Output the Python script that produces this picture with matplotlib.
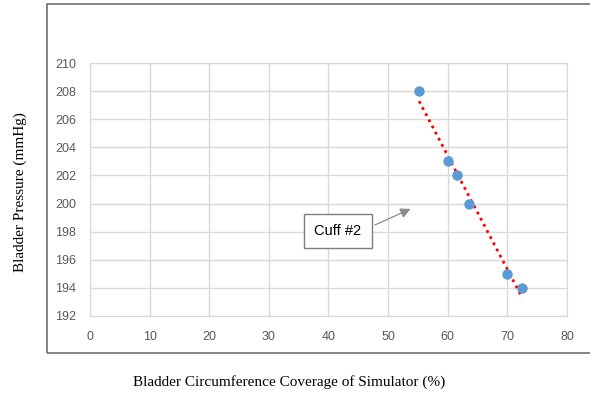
import matplotlib.pyplot as plt
import matplotlib.patches as mpatches
import numpy as np

# Data
coverage = [55.2, 60.0, 61.6, 63.5, 70.0, 72.5]   # % coverage
pressure = [208, 203, 202, 200, 195, 194]         # mmHg

x_ticks = [0, 10, 20, 30, 40, 50, 60, 70, 80]
y_ticks = [192, 194, 196, 198, 200, 202, 204, 206, 208, 210]

fig = plt.figure(figsize=(5.9, 3.94), dpi=100)

# outer frame of the chart object
frame = mpatches.Rectangle((0.08, 0.104), 0.95, 0.886, transform=fig.transFigure,
                           fill=False, edgecolor='#6f6f6f', linewidth=1.2)
fig.patches.append(frame)

ax = fig.add_axes([0.1525, 0.198, 0.8085, 0.642])

ax.plot(coverage, pressure, 'o', color='#5b9bd5', markersize=6.5, zorder=3)

# linear trendline
m, b = np.polyfit(coverage, pressure, 1)
xs = np.array([min(coverage), max(coverage)])
ax.plot(xs, m * xs + b, linestyle=(0, (1, 1.5)), color='#ff0000', linewidth=2, zorder=2)

ax.set_xlim(0, 80)
ax.set_ylim(192, 210)
ax.set_xticks(x_ticks)
ax.set_yticks(y_ticks)
ax.grid(True, color='#d9d9d9', linewidth=1)
ax.set_axisbelow(True)
for s in ax.spines.values():
    s.set_color('#d9d9d9')
ax.tick_params(length=0, colors='#595959', labelsize=9)
ax.tick_params(axis='x', pad=11)
ax.tick_params(axis='y', pad=10)
for lbl in ax.get_xticklabels() + ax.get_yticklabels():
    lbl.set_family('Liberation Sans')

ax.annotate('Cuff #2', xy=(54.2, 199.7), xytext=(41.6, 198.05),
            ha='center', va='center', fontsize=10.5, family='Liberation Sans',
            bbox=dict(boxstyle='square,pad=0.7', facecolor='white', edgecolor='#7f7f7f'),
            arrowprops=dict(arrowstyle='-|>', color='#8c8c8c', lw=0.9,
                            mutation_scale=15, relpos=(1, 0.5)))

fig.text(0.034, 0.513, 'Bladder Pressure (mmHg)', rotation=90, ha='center', va='center',
         fontsize=11, family='Liberation Serif')
fig.text(0.49, 0.03, 'Bladder Circumference Coverage of Simulator (%)', ha='center',
         va='center', fontsize=11, family='Liberation Serif')

fig.savefig('out.png', dpi=100)
